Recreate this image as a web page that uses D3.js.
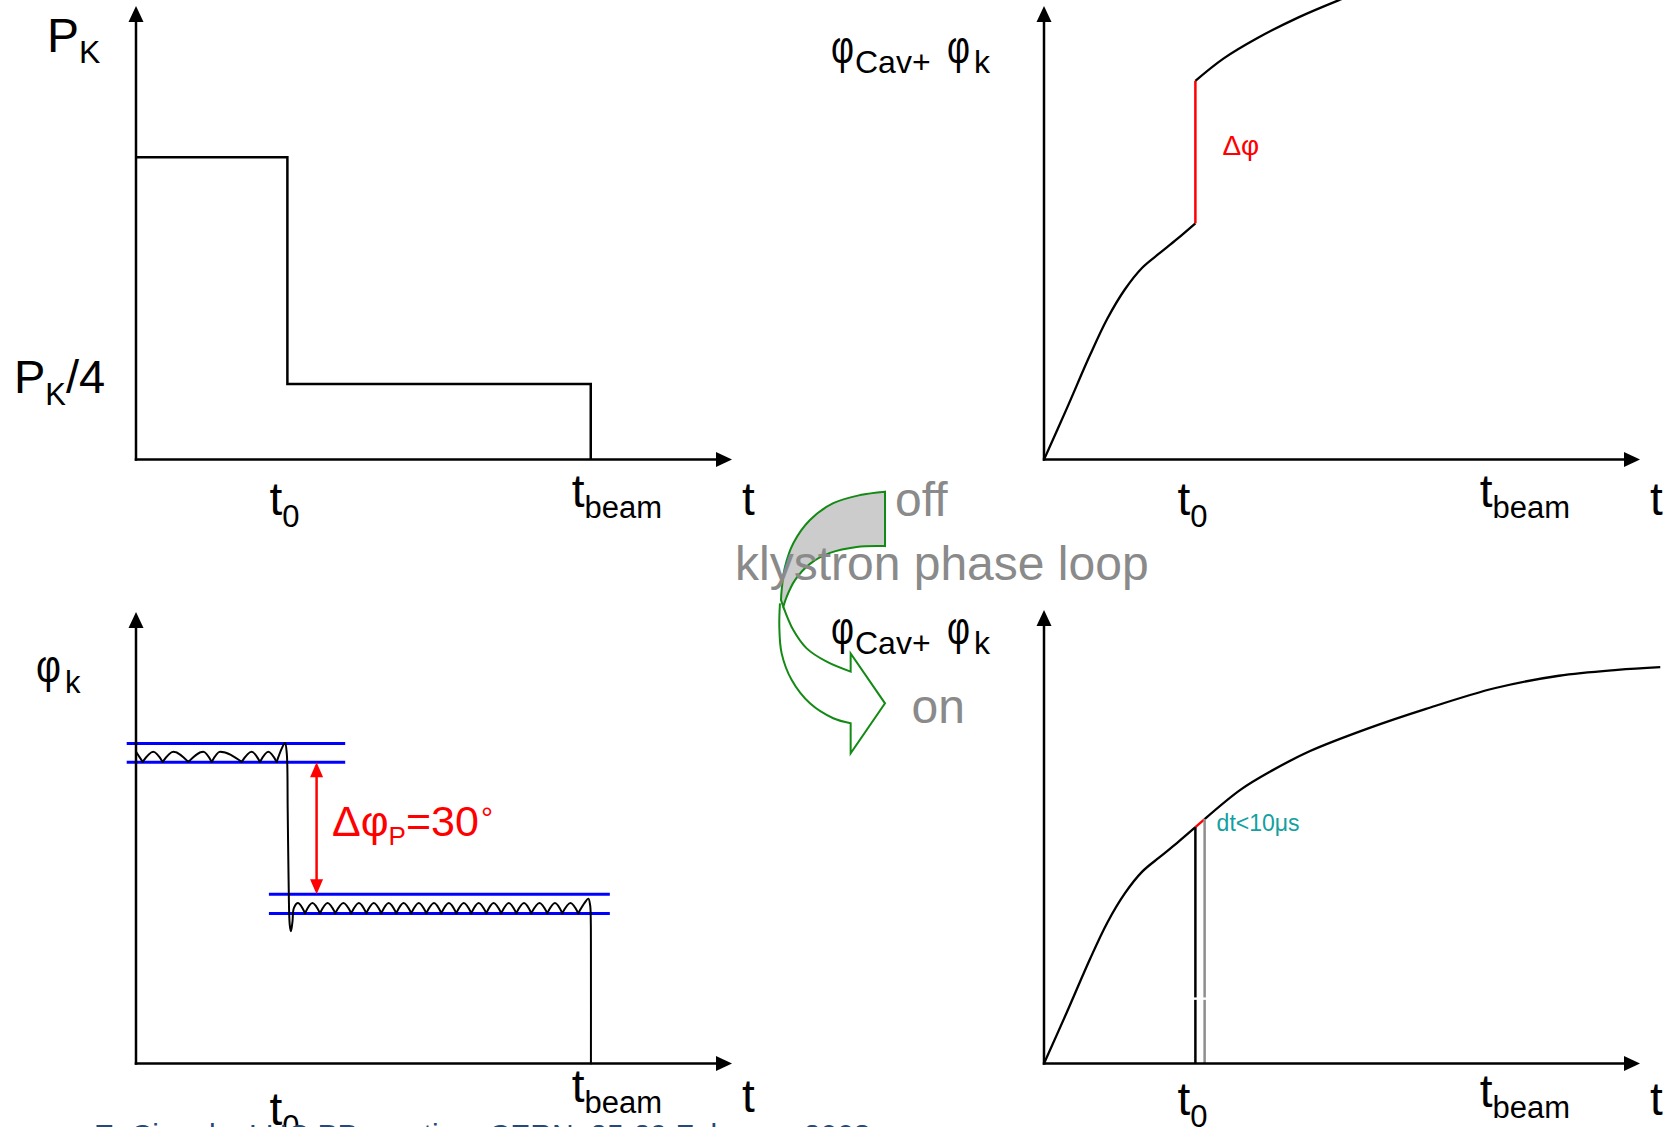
<!DOCTYPE html>
<html>
<head>
<meta charset="utf-8">
<script src="https://cdn.jsdelivr.net/npm/d3@7"></script>
<style>
  html, body { margin: 0; padding: 0; background: #fff; }
  svg { display: block; font-family: "Liberation Sans", Arial, Helvetica, sans-serif; }
</style>
</head>
<body>
<svg id="chart" width="1668" height="1127"></svg>
<script>
// ---------------------------------------------------------------
// Time axis in arbitrary units: 0 at the origin, 100 at the arrow tip
const tStart = 25.4;            // t0 : power step
const tBeam = 76.3;             // tbeam : beam arrives
const correctionDelay = 26.95;  // loop correction finished (t0 + dt)

// Klystron forward power, in units of P_K
const powerLevels = [1, 0.25, 0];

// Cavity + klystron phase (arbitrary units), rise up to t0
const phaseBeforeStep = [
  [0, 0], [3.85, 11.35], [7.74, 23.1], [10.64, 31.1], [13.56, 37.5],
  [16.48, 42.3], [19.4, 45.5], [22.3, 48.6], [25.4, 52.1]
];
// Loop off: phase jumps at t0 and keeps rising
const phaseAfterStepOff = [
  [25.4, 83.5], [30.1, 88.4], [35.9, 93.0], [42.7, 97.5], [49.5, 101.3], [56, 104.6]
];
// Loop on: short correction, then smooth continuation
const phaseCorrection = [[25.4, 52.1], [26.95, 53.9]];
const phaseAfterStepOn = [
  [26.95, 53.9], [33.0, 60.4], [37.85, 64.3], [44.65, 68.9], [54.4, 73.9],
  [64.1, 78.2], [75.75, 82.8], [86.4, 85.5], [96.2, 86.8], [103.4, 87.4]
];

// Klystron phase (degrees): tolerance bands and step
const bandHigh = [68.5, 72.8];
const bandLow = [34.1, 38.5];
const phaseStepDeg = 30;

// Klystron phase ripple before t0, drop at t0, ripple after t0, switch-off at tbeam
const rippleHigh = [
  [0, 70.9], [1.12, 68.6], [2.9, 70.9], [4.48, 68.6], [6.26, 70.9], [8.78, 68.6],
  [11.3, 70.9], [12.7, 68.6], [14.1, 70.9], [17.73, 68.6], [19.4, 70.9], [20.8, 68.6],
  [22.2, 70.9], [23.6, 68.6]
];
const rippleDrop = [
  [23.6, 68.6], [24.5, 71.8], [25.0, 72.9], [25.3, 70.5], [25.45, 58], [25.6, 42],
  [25.8, 31.5], [26.0, 30.1], [26.25, 32.2], [26.5, 35.4], [27.2, 36.5], [28.36, 34.2]
];
const rippleLow = [
  [28.36, 34.2], [29.6, 36.5], [30.87, 34.2], [32.15, 36.5], [33.44, 34.2], [34.8, 36.5],
  [36.12, 34.2], [37.4, 36.5], [38.64, 34.2], [39.9, 36.5], [41.16, 34.2], [42.4, 36.5],
  [43.67, 34.2], [44.9, 36.5], [46.19, 34.2], [47.45, 36.5], [48.71, 34.2], [50.0, 36.5],
  [51.23, 34.2], [52.5, 36.5], [53.74, 34.2], [55.0, 36.5], [56.26, 34.2], [57.5, 36.5],
  [58.78, 34.2], [60.0, 36.5], [61.29, 34.2], [62.55, 36.5], [63.81, 34.2], [65.1, 36.5],
  [66.33, 34.2], [67.7, 36.5], [69.01, 34.2], [70.3, 36.5], [71.53, 34.2], [72.9, 36.5],
  [74.2, 34.2]
];
const rippleEnd = [
  [74.2, 34.2], [75.3, 36.6], [75.9, 37.5], [76.2, 36.0], [76.3, 33.0], [76.33, 25], [76.33, 0]
];

// Curved "off -> on" arrow outline, in its own 0..100 box
const arrowBackOuter = [[100, 0], [76.4, 1.3], [51.2, 4.4], [29.2, 10.8], [13.5, 19.7], [5.7, 28.7], [2.5, 37.6], [1.9, 41.4]];
const arrowBackInner = [[100, 20.8], [73.3, 21.1], [48.1, 23.4], [29.2, 27.6], [15.1, 33.8], [7.3, 40.1], [4.1, 44]];
const arrowFrontInner = [[4.1, 44], [13.5, 52.9], [26.1, 59.9], [45, 65], [67.6, 68.8]];
const arrowHead = [[67.6, 68.8], [67.6, 61.8], [100, 80.9], [67.6, 100], [67.6, 88.5]];
const arrowFrontOuter = [[67.6, 88.5], [51.2, 86.6], [29.2, 80.9], [12, 72], [2.5, 61.8], [0.3, 51.6], [0.9, 42.7]];

// ---------------------------------------------------------------
const svg = d3.select("#chart");
svg.append("rect").attr("width", 1668).attr("height", 1127).attr("fill", "#fff");

const FONT = 46, SUB = 31;

const xL = d3.scaleLinear().domain([0, 100]).range([136, 732]);
const xR = d3.scaleLinear().domain([0, 100]).range([1044, 1640]);
const yPow = d3.scaleLinear().domain([0, 1.5]).range([459.6, 6]);
const yTR = d3.scaleLinear().domain([0, 100]).range([459.6, 6]);
const yBL = d3.scaleLinear().domain([0, 102.7]).range([1063.5, 612]);
const yBR = d3.scaleLinear().domain([0, 100]).range([1063.5, 610]);

// the curved arrow box
const ax = d3.scaleLinear().domain([0, 100]).range([779, 885]);
const ay = d3.scaleLinear().domain([0, 100]).range([491.7, 753.3]);

function axes(g, x, y, xMax, yMax) {
  const x0 = x(0), y0 = y(0), xt = x(xMax), yt = y(yMax);
  const L = 16, H = 7.5;
  g.append("line").attr("x1", x0).attr("y1", y0 + 1.25).attr("x2", x0).attr("y2", yt + L - 1)
    .attr("stroke", "#000").attr("stroke-width", 2.5);
  g.append("line").attr("x1", x0 - 1.25).attr("y1", y0).attr("x2", xt - L + 1).attr("y2", y0)
    .attr("stroke", "#000").attr("stroke-width", 2.5);
  g.append("path").attr("d", `M${x0},${yt}L${x0 - H},${yt + L}L${x0 + H},${yt + L}Z`).attr("fill", "#000");
  g.append("path").attr("d", `M${xt},${y0}L${xt - L},${y0 - H}L${xt - L},${y0 + H}Z`).attr("fill", "#000");
}

function subText(g, x, y, main, sub, opts = {}) {
  const size = opts.size || FONT, subSize = opts.subSize || SUB, dy = opts.dy || 12;
  const t = g.append("text").attr("x", x).attr("y", y)
    .attr("font-size", size).attr("fill", opts.color || "#000");
  t.append("tspan").text(main);
  t.append("tspan").attr("font-size", subSize).attr("dy", dy).text(sub);
  if (opts.tail) t.append("tspan").attr("dy", -dy).text(opts.tail);
  return t;
}

function timeLabels(g, x, dyT0, dyBeam, dyT) {
  subText(g, x(tStart) - 18, 515 + dyT0, "t", "0", { dy: 12 });
  subText(g, x(tBeam) - 19, 506.7 + dyBeam, "t", "beam", { dy: 11.6 });
  g.append("text").attr("x", x(100) + 10).attr("y", 515 + dyT).attr("font-size", FONT).text("t");
}

function lineOf(x, y, curve) {
  return d3.line().x(d => x(d[0])).y(d => y(d[1])).curve(curve || d3.curveMonotoneX);
}
const smooth = d3.curveCatmullRom.alpha(0.5);

// narrow phi glyph
function phi(g, x, y, width) {
  return g.append("text").attr("x", x).attr("y", y).attr("font-size", FONT)
    .attr("textLength", width).attr("lengthAdjust", "spacingAndGlyphs").text("φ");
}

function phiLabel(g, dy) {
  phi(g, 831, 62.5 + dy, 23);
  g.append("text").attr("x", 855).attr("y", 73 + dy).attr("font-size", 32).text("Cav+");
  phi(g, 947, 62.5 + dy, 23);
  g.append("text").attr("x", 974).attr("y", 73 + dy).attr("font-size", 32).text("k");
}

// ---------------------------------------------------------------
// Top left: klystron power
const gTL = svg.append("g");
const powerStep = [[0, powerLevels[0]], [tStart, powerLevels[1]], [tBeam, powerLevels[2]]];
gTL.append("path").attr("d", lineOf(xL, yPow, d3.curveStepAfter)(powerStep))
  .attr("fill", "none").attr("stroke", "#000").attr("stroke-width", 2.5);
axes(gTL, xL, yPow, 100, 1.5);
subText(gTL, 47, 51.7, "P", "K", { size: 48, subSize: 32, dy: 11.6 });
subText(gTL, 14, 393.3, "P", "K", { size: 47, subSize: 31, dy: 11.7, tail: "/4" });
timeLabels(gTL, xL, 0, 0, 0);

// ---------------------------------------------------------------
// Top right: phase with loop off
const gTR = svg.append("g");
gTR.append("path").attr("d", lineOf(xR, yTR, smooth)(phaseBeforeStep))
  .attr("fill", "none").attr("stroke", "#000").attr("stroke-width", 2.3);
gTR.append("path").attr("d", lineOf(xR, yTR, smooth)(phaseAfterStepOff))
  .attr("fill", "none").attr("stroke", "#000").attr("stroke-width", 2.3);
const jumpFrom = phaseBeforeStep[phaseBeforeStep.length - 1], jumpTo = phaseAfterStepOff[0];
gTR.append("line").attr("x1", xR(jumpFrom[0])).attr("x2", xR(jumpTo[0]))
  .attr("y1", yTR(jumpFrom[1])).attr("y2", yTR(jumpTo[1]))
  .attr("stroke", "#ff0000").attr("stroke-width", 2.5);
gTR.append("text").attr("x", xR(tStart) + 27).attr("y", 155).attr("font-size", 28)
  .attr("fill", "#ff0000").text("Δφ");
axes(gTR, xR, yTR, 100, 100);
phiLabel(gTR, 0);
timeLabels(gTR, xR, 0, 0, 0);

// ---------------------------------------------------------------
// Bottom left: klystron phase
const gBL = svg.append("g");
[[bandHigh, -1.56, 35.1], [bandLow, 22.3, 79.5]].forEach(([band, t1, t2]) => {
  band.forEach(v => {
    gBL.append("line").attr("x1", xL(t1)).attr("x2", xL(t2)).attr("y1", yBL(v)).attr("y2", yBL(v))
      .attr("stroke", "#0000ff").attr("stroke-width", 3);
  });
});

function archPath(pts, x, y) {
  const cuts = [0];
  for (let i = 1; i < pts.length - 1; i++) {
    if (pts[i][1] < pts[i - 1][1] && pts[i][1] < pts[i + 1][1]) cuts.push(i);
  }
  cuts.push(pts.length - 1);
  const gen = lineOf(x, y, d3.curveMonotoneX);
  return cuts.slice(1).map((c, k) => gen(pts.slice(cuts[k], c + 1))).join("");
}
const rippleStyle = p => p.attr("fill", "none").attr("stroke", "#000").attr("stroke-width", 2)
  .attr("stroke-linejoin", "round").attr("stroke-linecap", "round");
gBL.append("path").attr("d", archPath(rippleHigh, xL, yBL)).call(rippleStyle);
gBL.append("path").attr("d", lineOf(xL, yBL, smooth)(rippleDrop)).call(rippleStyle);
gBL.append("path").attr("d", archPath(rippleLow, xL, yBL)).call(rippleStyle);
gBL.append("path").attr("d", lineOf(xL, yBL, smooth)(rippleEnd)).call(rippleStyle);

// double arrow spanning the phase step
{
  const xa = xL(30.3), yTop = yBL(bandHigh[0]), yBot = yBL(bandHigh[0] - phaseStepDeg);
  const L = 15, H = 6.5;
  gBL.append("line").attr("x1", xa).attr("x2", xa).attr("y1", yTop + L - 1).attr("y2", yBot - L + 1)
    .attr("stroke", "#ff0000").attr("stroke-width", 2.5);
  gBL.append("path").attr("d", `M${xa},${yTop}L${xa - H},${yTop + L}L${xa + H},${yTop + L}Z`).attr("fill", "#ff0000");
  gBL.append("path").attr("d", `M${xa},${yBot}L${xa - H},${yBot - L}L${xa + H},${yBot - L}Z`).attr("fill", "#ff0000");
  const t = gBL.append("text").attr("x", 332).attr("y", 836).attr("font-size", 43).attr("fill", "#ff0000");
  t.append("tspan").text("Δφ");
  t.append("tspan").attr("font-size", 26).attr("dy", 9).text("P");
  t.append("tspan").attr("dy", -9).text("=" + phaseStepDeg);
  t.append("tspan").attr("font-size", 30).attr("dy", -8).attr("dx", 2).text("°");
}
axes(gBL, xL, yBL, 100, 102.7);
phi(gBL, 36, 682, 25);
gBL.append("text").attr("x", 65).attr("y", 693.4).attr("font-size", SUB).text("k");
subText(gBL, xL(tStart) - 18, 1125, "t", "0", { dy: 12 });
subText(gBL, xL(tBeam) - 19, 1101.5, "t", "beam", { dy: 11.6 });
gBL.append("text").attr("x", xL(100) + 10).attr("y", 1112).attr("font-size", FONT).text("t");

// ---------------------------------------------------------------
// Bottom right: phase with loop on
const gBR = svg.append("g");
gBR.append("path").attr("d", lineOf(xR, yBR, smooth)(phaseBeforeStep))
  .attr("fill", "none").attr("stroke", "#000").attr("stroke-width", 2.3);
gBR.append("path").attr("d", lineOf(xR, yBR, smooth)(phaseAfterStepOn))
  .attr("fill", "none").attr("stroke", "#000").attr("stroke-width", 2.3);
gBR.append("path").attr("d", lineOf(xR, yBR, d3.curveLinear)(phaseCorrection))
  .attr("fill", "none").attr("stroke", "#ff0000").attr("stroke-width", 2.3);
gBR.append("line").attr("x1", xR(tStart)).attr("x2", xR(tStart))
  .attr("y1", yBR(0)).attr("y2", yBR(phaseCorrection[0][1]))
  .attr("stroke", "#000").attr("stroke-width", 2.5);
gBR.append("line").attr("x1", xR(correctionDelay)).attr("x2", xR(correctionDelay))
  .attr("y1", yBR(0)).attr("y2", yBR(phaseCorrection[1][1]))
  .attr("stroke", "#8e8e8e").attr("stroke-width", 2.5);
gBR.append("rect").attr("x", xR(tStart) - 3).attr("y", yBR(14.3) - 1.2)
  .attr("width", xR(correctionDelay) - xR(tStart) + 6).attr("height", 2.4).attr("fill", "#fff");
gBR.append("text").attr("x", xR(correctionDelay) + 12).attr("y", 831).attr("font-size", 23)
  .attr("fill", "#12a0a0").text("dt<10μs");
axes(gBR, xR, yBR, 100, 100);
timeLabels(gBR, xR, 600, 600, 600);

// ---------------------------------------------------------------
// Curved arrow: klystron phase loop off -> on
const gA = svg.append("g");
const aLine = d3.line().x(d => ax(d[0])).y(d => ay(d[1])).curve(smooth);
const aPoly = d3.line().x(d => ax(d[0])).y(d => ay(d[1]));
const backPath = aLine(arrowBackOuter) + "L" + aLine(arrowBackInner.slice().reverse()).slice(1) + "Z";
gA.append("path").attr("d", backPath).attr("fill", "#cccccc")
  .attr("stroke", "#138a13").attr("stroke-width", 2).attr("stroke-linejoin", "miter");
const frontPath = aLine(arrowFrontInner) + "L" + aPoly(arrowHead).slice(1) + "L" + aLine(arrowFrontOuter).slice(1);
gA.append("path").attr("d", frontPath).attr("fill", "none")
  .attr("stroke", "#138a13").attr("stroke-width", 2).attr("stroke-linejoin", "miter");

const grey = "#8a8a8a";
svg.append("text").attr("x", 895).attr("y", 516).attr("font-size", 48).attr("fill", grey).text("off");
svg.append("text").attr("x", 735).attr("y", 580).attr("font-size", 48).attr("fill", grey).text("klystron phase loop");
svg.append("text").attr("x", 911.5).attr("y", 723).attr("font-size", 48).attr("fill", grey).text("on");

// bottom-right panel title sits over the arrow
phiLabel(gBR, 581);

// footer line, mostly below the page edge
svg.append("text").attr("x", 94).attr("y", 1145).attr("font-size", 30).attr("fill", "#24497f")
  .text("E. Ciapala, LHC PP meeting, CERN, 25-29 February 2008");
</script>
</body>
</html>
